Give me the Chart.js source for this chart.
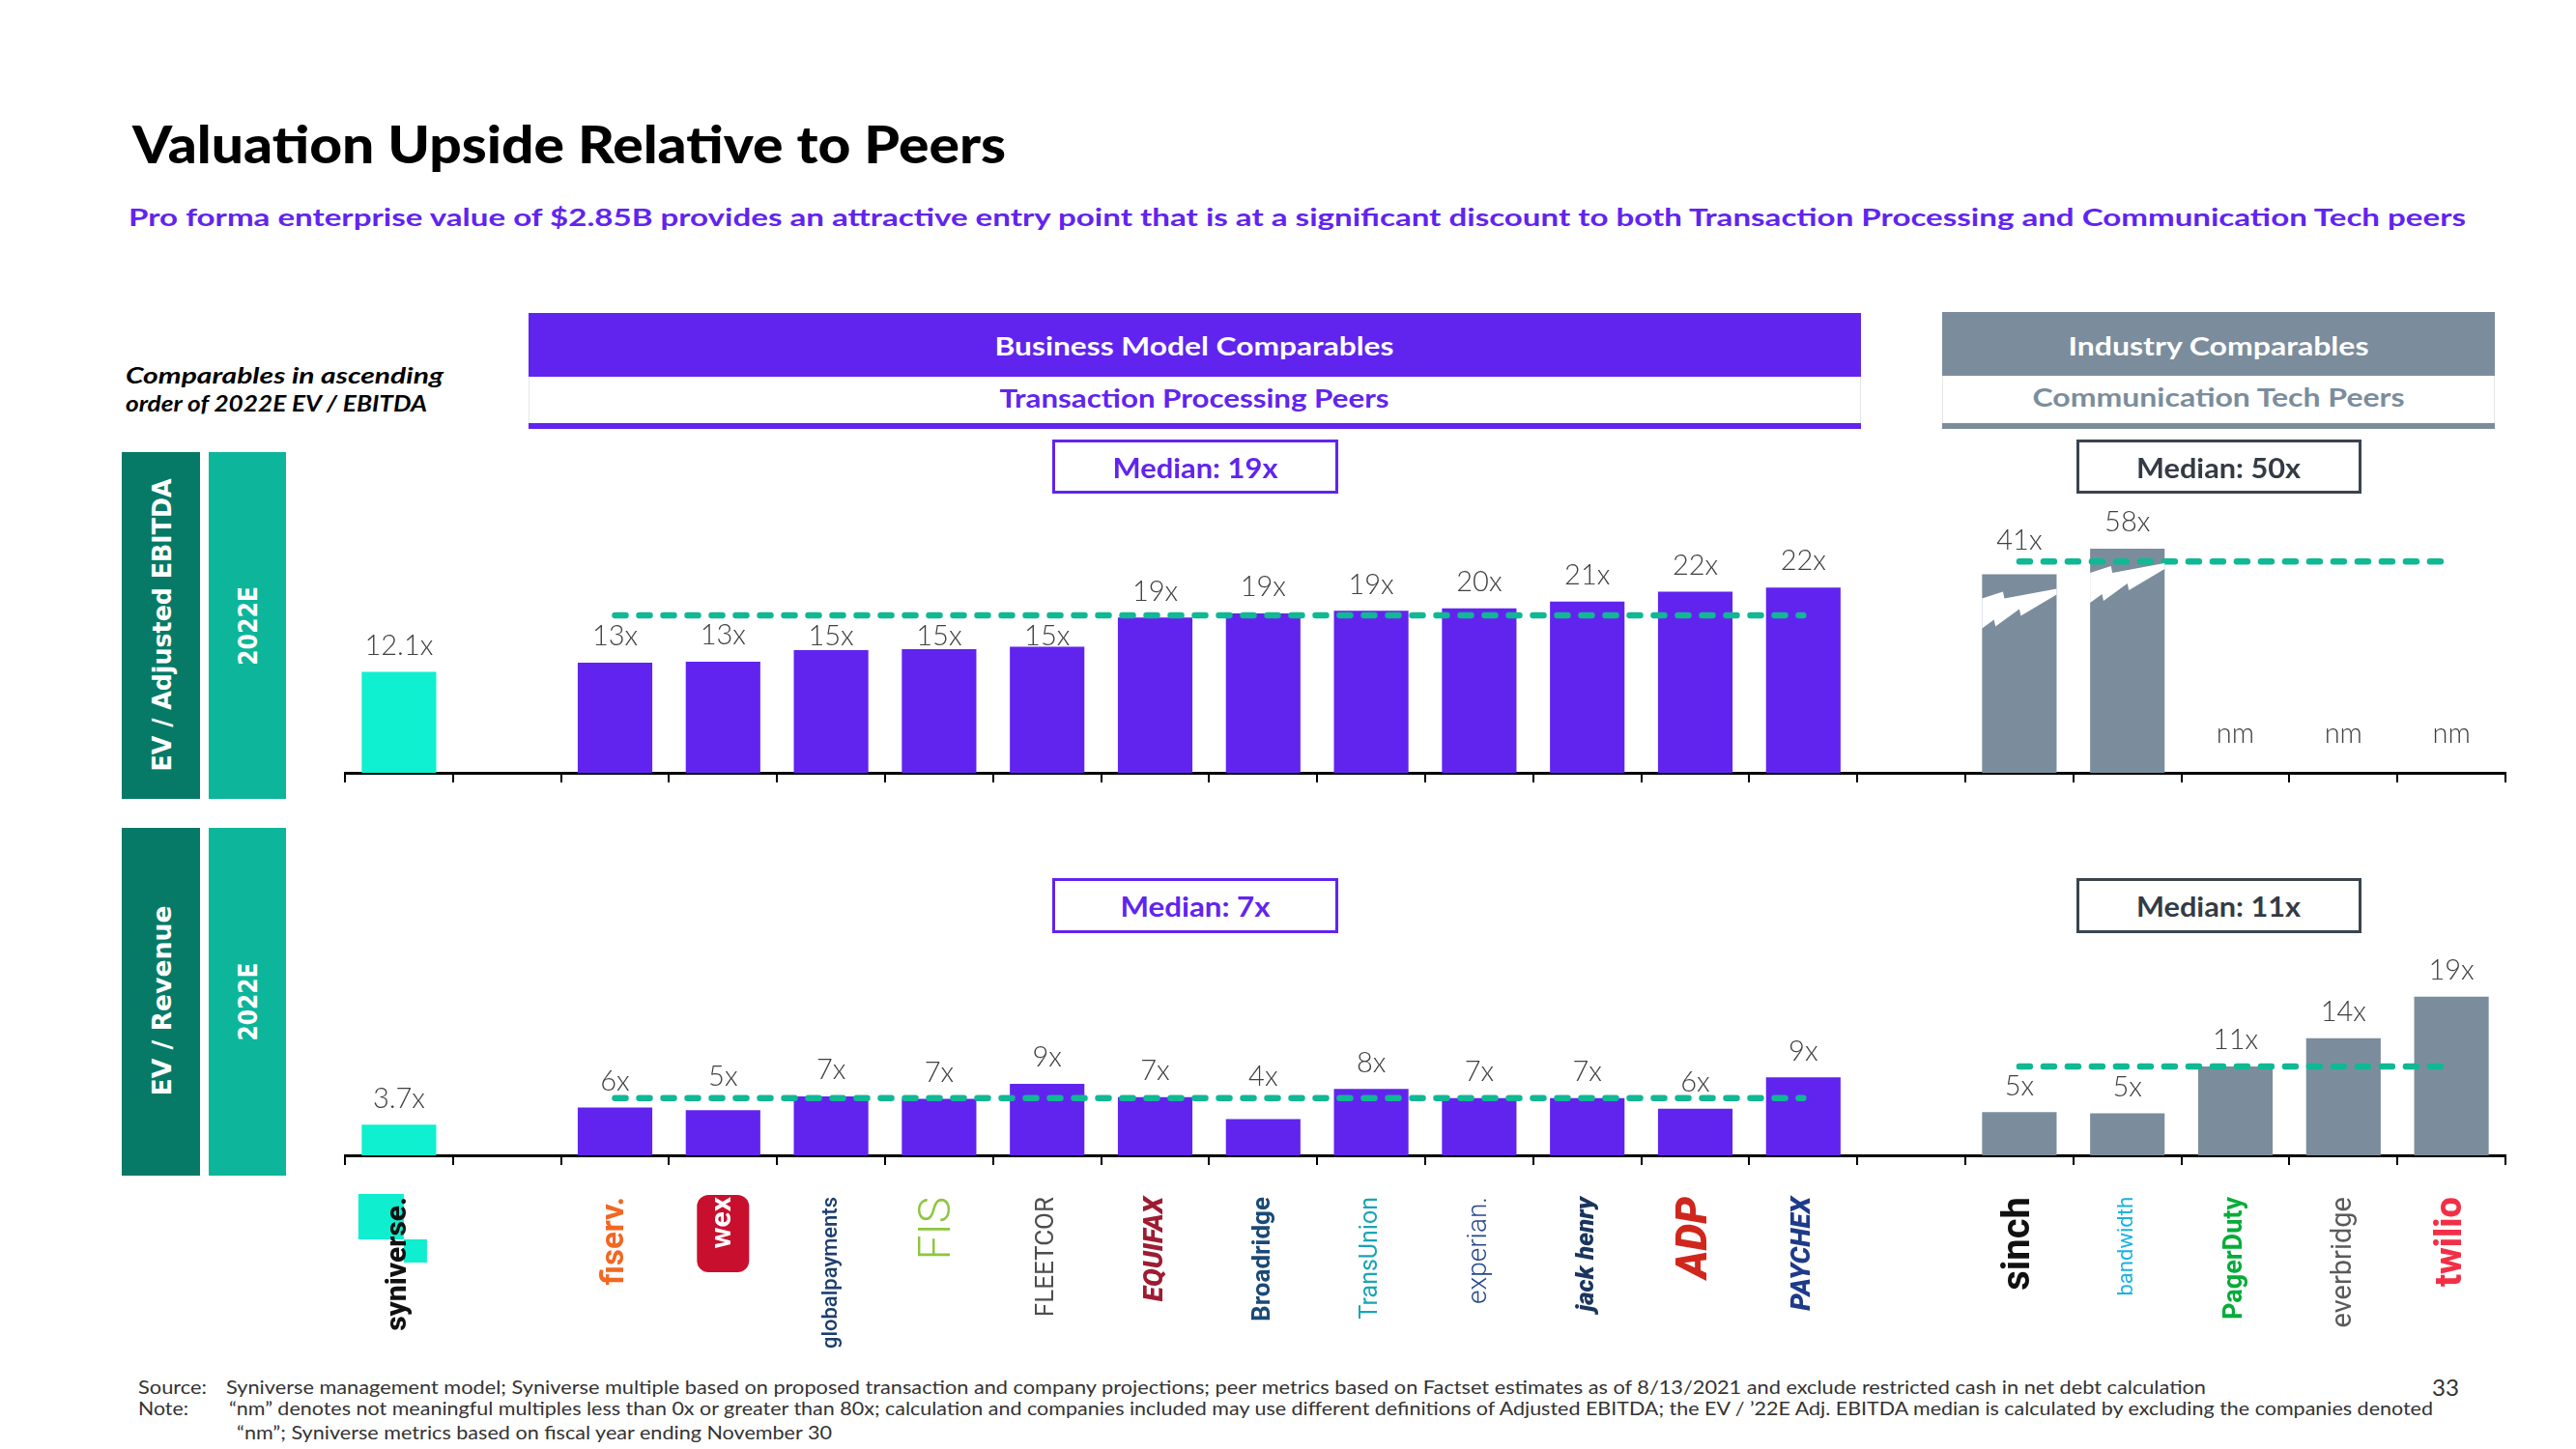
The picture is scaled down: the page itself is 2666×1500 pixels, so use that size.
<!DOCTYPE html>
<html>
<head>
<meta charset="utf-8">
<script src="https://cdn.jsdelivr.net/npm/chart.js@4.4.0/dist/chart.umd.min.js"></script>
<style>
  html, body { margin: 0; padding: 0; background: #fff; }
  #page { position: relative; width: 2666px; height: 1500px; overflow: hidden; font-family: Lato, "Open Sans", sans-serif; }
  .t { position: absolute; white-space: nowrap; line-height: 1; }
  .box { position: absolute; box-sizing: border-box; }
  canvas { position: absolute; }
</style>
</head>
<body>
<div id="page">
  <!-- group headers -->
  <div class="box" style="left:547px;top:324px;width:1379px;height:66px;background:#6124EF"></div>
  <div class="box" style="left:547px;top:390px;width:1379px;height:48px;border-left:1px solid #e6e6e6;border-right:1px solid #e6e6e6"></div>
  <div class="box" style="left:547px;top:438px;width:1379px;height:6px;background:#6124EF"></div>
  <div class="box" style="left:2010px;top:323px;width:572px;height:66px;background:#7B8D9C"></div>
  <div class="box" style="left:2010px;top:389px;width:572px;height:49px;border-left:1px solid #e6e6e6;border-right:1px solid #e6e6e6"></div>
  <div class="box" style="left:2010px;top:438px;width:572px;height:6px;background:#7B8D9C"></div>

  <!-- median boxes -->
  <div class="box" style="left:1089px;top:455px;width:296px;height:56px;border:3px solid #6124EF"></div>
  <div class="box" style="left:1089px;top:909px;width:296px;height:57px;border:3px solid #6124EF"></div>
  <div class="box" style="left:2149px;top:455px;width:295px;height:56px;border:3px solid #3A444E"></div>
  <div class="box" style="left:2149px;top:909px;width:295px;height:57px;border:3px solid #3A444E"></div>

  <!-- row labels -->
  <div class="box" style="left:126px;top:468px;width:81px;height:359px;background:#077A67"></div>
  <div class="box" style="left:216px;top:468px;width:80px;height:359px;background:#0DB59A"></div>
  <div class="box" style="left:126px;top:857px;width:81px;height:360px;background:#077A67"></div>
  <div class="box" style="left:216px;top:857px;width:80px;height:360px;background:#0DB59A"></div>

  <canvas id="topChart" width="2256" height="373" style="left:347px;top:437px"></canvas>
  <canvas id="bottomChart" width="2256" height="439" style="left:347px;top:981px"></canvas>
</div>
<script>
// categories (spacer slots are blank)
const syniverseName = 'syniverse.';
const txnPeers = ['fiserv.', 'wex', 'globalpayments', 'FIS', 'FLEETCOR', 'EQUIFAX', 'Broadridge',
                  'TransUnion', 'experian.', 'jack henry', 'ADP', 'PAYCHEX'];
const commPeers = ['sinch', 'bandwidth', 'PagerDuty', 'everbridge', 'twilio'];

// EV / Adjusted EBITDA, 2022E (null = nm)
const syniverseEbitda = 12.1;
const txnEbitda = [13.2, 13.3, 14.7, 14.8, 15.1, 18.6, 19.1, 19.4, 19.7, 20.5, 21.7, 22.2];
const commEbitda = [41, 58, null, null, null];

// EV / Revenue, 2022E
const syniverseRevenue = 3.7;
const txnRevenue = [5.75, 5.45, 7.1, 6.8, 8.6, 7.0, 4.35, 8.0, 6.9, 6.9, 5.6, 9.4];
const commRevenue = [5.2, 5.05, 10.7, 14.1, 19.1];

// broken axis for the tall communication tech bars
const BREAK_AT = 20;
const BREAK_SQUEEZE = 0.18;

const PURPLE = '#6124EF', GRAY = '#7B8D9C', AQUA = '#0FF0D0', TEAL = '#10B894';

const categories = [syniverseName, '', ...txnPeers, '', ...commPeers];
const row = (s, t, c) => [s, null, ...t, null, ...c];
const squeeze = v => v == null ? null : (v <= BREAK_AT ? v : BREAK_AT + (v - BREAK_AT) * BREAK_SQUEEZE);
const fmt = v => v == null ? 'nm' : Math.round(v) + 'x';
function median(arr) {
  const a = arr.filter(v => v != null).sort((x, y) => x - y);
  const m = Math.floor(a.length / 2);
  return a.length % 2 ? a[m] : (a[m - 1] + a[m]) / 2;
}
function medianLine(group, value) {
  const out = categories.map(() => null);
  const start = group === 'txn' ? 2 : 3 + txnPeers.length;
  const n = group === 'txn' ? txnPeers.length : commPeers.length;
  for (let i = 0; i < n; i++) out[start + i] = value;
  return out;
}
const barColors = row(AQUA, txnPeers.map(() => PURPLE), commPeers.map(() => GRAY));

// logo stand-ins: [color, size, weight, style, family]
const logoStyle = {
  'syniverse.': ['#111', 30, 800, 'normal', 'Roboto'],
  'fiserv.': ['#F26722', 33, 700, 'normal', 'Roboto'],
  'wex': ['#fff', 30, 700, 'normal', 'Roboto'],
  'globalpayments': ['#1C3E6E', 22, 500, 'normal', 'Roboto'],
  'FIS': ['#8DC63F', 46, 300, 'normal', 'Roboto'],
  'FLEETCOR': ['#4D4D4D', 26, 400, 'normal', 'Roboto'],
  'EQUIFAX': ['#9E1B32', 28, 900, 'italic', 'Roboto'],
  'Broadridge': ['#1A4A75', 26, 700, 'normal', 'Roboto'],
  'TransUnion': ['#1BA4B5', 25, 400, 'normal', 'Roboto'],
  'experian.': ['#26478D', 28, 300, 'normal', 'Roboto'],
  'jack henry': ['#1B365D', 26, 900, 'italic', 'Roboto'],
  'ADP': ['#D0271D', 44, 900, 'italic', 'Roboto'],
  'PAYCHEX': ['#1E3A8A', 28, 900, 'italic', 'Roboto'],
  'sinch': ['#111', 40, 700, 'normal', 'Roboto'],
  'bandwidth': ['#19B2E6', 22, 400, 'normal', 'Roboto'],
  'PagerDuty': ['#06AC38', 27, 700, 'normal', 'Roboto'],
  'everbridge': ['#5A5A5A', 29, 400, 'normal', 'Roboto'],
  'twilio': ['#F22F46', 38, 800, 'normal', 'Roboto']
};

// value labels sit above the bar, but step around the median line
const valueLabels = {
  id: 'valueLabels',
  afterDatasetsDraw(chart, args, opts) {
    const ctx = chart.ctx, xs = chart.scales.x, ys = chart.scales.y;
    const data = chart.data.datasets[0].data;
    const lines = chart.data.datasets.filter(d => d.type === 'line');
    ctx.save();
    ctx.font = '300 29px Lato';
    ctx.fillStyle = '#404040';
    ctx.textAlign = 'center';
    ctx.textBaseline = 'middle';
    opts.texts.forEach((txt, i) => {
      if (!txt) return;
      const x = xs.getPixelForValue(i);
      if (data[i] == null) { ctx.fillText(txt, x, ys.getPixelForValue(0) - 40); return; }
      const top = ys.getPixelForValue(data[i]);
      let y = top - 27;
      const ln = lines.find(d => d.data[i] != null);
      if (ln) {
        const ly = ys.getPixelForValue(ln.data[i]);
        if (Math.abs(y - ly) < 15) {
          const below = ly + 22, above = ly - 22;
          y = (below <= top - 10 && Math.abs(below - y) < Math.abs(above - y)) ? below : above;
        }
      }
      ctx.fillText(txt, x, y);
    });
    ctx.restore();
  }
};

const breakMarks = {
  id: 'breakMarks',
  afterDatasetsDraw(chart, args, opts) {
    if (!opts.raw) return;
    const ctx = chart.ctx, meta = chart.getDatasetMeta(0);
    const shape = [[0, 25], [0.28, 18], [0.30, 25], [1, 15], [1, 21], [0.52, 43], [0.50, 36], [0.18, 54], [0.16, 47], [0, 56]];
    ctx.save();
    ctx.fillStyle = '#fff';
    opts.raw.forEach((v, i) => {
      if (v == null || v <= BREAK_AT) return;
      const bar = meta.data[i];
      const left = bar.x - bar.width / 2;
      ctx.beginPath();
      shape.forEach(([fx, dy], k) => {
        const px = left + fx * bar.width, py = bar.y + dy;
        k ? ctx.lineTo(px, py) : ctx.moveTo(px, py);
      });
      ctx.closePath();
      ctx.fill();
    });
    ctx.restore();
  }
};

// logo backdrops (syniverse squares, wex badge) behind the tick labels
const logoBackdrops = {
  id: 'logoBackdrops',
  beforeDraw(chart, args, opts) {
    if (!opts.on) return;
    const ctx = chart.ctx, xs = chart.scales.x;
    const top = xs.top + 10 + 33;
    ctx.save();
    const sx = xs.getPixelForValue(categories.indexOf(syniverseName));
    ctx.fillStyle = '#10EED0';
    ctx.fillRect(sx - 42, top - 3, 47, 47);
    ctx.fillRect(sx + 5, top + 44, 24, 24);
    const wx = xs.getPixelForValue(categories.indexOf('wex'));
    ctx.fillStyle = '#C8102E';
    ctx.beginPath();
    ctx.roundRect(wx - 27, top - 2, 54, 80, 12);
    ctx.fill();
    ctx.restore();
  }
};

function makeChart(id, opt) {
  return new Chart(document.getElementById(id), {
    data: {
      labels: categories,
      datasets: [
        { type: 'bar', data: opt.values, backgroundColor: barColors, borderWidth: 0,
          categoryPercentage: 1, barPercentage: 0.69, order: 1 },
        { type: 'line', data: opt.lineA, borderColor: TEAL, borderWidth: 6.5, borderDash: [11, 14],
          borderCapStyle: 'round', pointRadius: 0, spanGaps: false, order: 0 },
        { type: 'line', data: opt.lineB, borderColor: TEAL, borderWidth: 6.5, borderDash: [11, 14],
          borderCapStyle: 'round', pointRadius: 0, spanGaps: false, order: 0 }
      ]
    },
    options: {
      responsive: false,
      animation: false,
      devicePixelRatio: 1,
      layout: { padding: { left: 10, right: 10, top: 0, bottom: 0 } },
      plugins: {
        legend: { display: false },
        tooltip: { enabled: false },
        valueLabels: { texts: opt.texts },
        breakMarks: { raw: opt.raw },
        logoBackdrops: { on: opt.logos }
      },
      scales: {
        y: { display: false, min: 0, max: opt.max },
        x: {
          offset: true,
          grid: { display: true, offset: true, drawOnChartArea: false, drawTicks: true, tickLength: 10,
                  color: '#000', lineWidth: 2 },
          border: { display: true, color: '#000', width: 3 },
          ticks: {
            display: opt.logos,
            autoSkip: false,
            minRotation: 90,
            maxRotation: 90,
            padding: 33,
            color: c => (logoStyle[categories[c.index]] || ['#000'])[0],
            font: c => {
              const s = logoStyle[categories[c.index]] || ['#000', 20, 400, 'normal', 'Roboto'];
              return { size: s[1], weight: s[2], style: s[3], family: s[4] };
            }
          },
          afterFit(scale) {
            scale.height = opt.axisHeight;
            scale.paddingLeft = 0;
            scale.paddingRight = 0;
          }
        }
      }
    },
    plugins: [valueLabels, breakMarks, logoBackdrops]
  });
}

const topMedTxn = median(txnEbitda), topMedComm = median(commEbitda);
const botMedTxn = median(txnRevenue), botMedComm = median(commRevenue);

makeChart('topChart', {
  values: row(syniverseEbitda, txnEbitda, commEbitda.map(squeeze)),
  raw: row(null, txnEbitda.map(() => null), commEbitda),
  texts: row(syniverseEbitda.toFixed(1) + 'x', txnEbitda.map(fmt), commEbitda.map(fmt)),
  lineA: medianLine('txn', topMedTxn),
  lineB: medianLine('comm', squeeze(topMedComm)),
  max: 42, axisHeight: 10, logos: false
});

makeChart('bottomChart', {
  values: row(syniverseRevenue, txnRevenue, commRevenue),
  raw: null,
  texts: row(syniverseRevenue.toFixed(1) + 'x', txnRevenue.map(fmt), commRevenue.map(fmt)),
  lineA: medianLine('txn', botMedTxn),
  lineB: medianLine('comm', botMedComm),
  max: 25, axisHeight: 224, logos: true
});

// slide text
const page = document.getElementById('page');
function label(s, o) {
  const el = document.createElement('span');
  el.className = 't';
  el.textContent = s;
  el.style.font = o.font;
  el.style.color = o.color || '#000';
  page.appendChild(el);
  const k = o.w ? o.w / el.getBoundingClientRect().width : 1;
  el.style.left = o.x + 'px';
  el.style.top = o.y + 'px';
  if (o.center || o.rot) {
    el.style.transformOrigin = 'center center';
    el.style.transform = 'translate(-50%,-50%)' + (o.rot ? ' rotate(' + o.rot + 'deg)' : '') + ' scaleX(' + k + ')';
  } else {
    el.style.transformOrigin = 'left center';
    el.style.transform = 'translateY(-50%) scaleX(' + k + ')';
  }
}

label('Valuation Upside Relative to Peers', { x: 137, y: 148, w: 904, font: '900 53px Lato' });
label('Pro forma enterprise value of $2.85B provides an attractive entry point that is at a significant discount to both Transaction Processing and Communication Tech peers',
  { x: 133, y: 224, w: 2419, font: '700 25px Lato', color: PURPLE });
label('Comparables in ascending', { x: 130, y: 388, w: 329, font: 'italic 700 23px Lato' });
label('order of 2022E EV / EBITDA', { x: 130, y: 417, w: 312, font: 'italic 700 23px Lato' });

label('Business Model Comparables', { x: 1236, y: 358, w: 413, center: true, font: '700 26px Lato', color: '#fff' });
label('Transaction Processing Peers', { x: 1236, y: 412, w: 403, center: true, font: '700 26px Lato', color: PURPLE });
label('Industry Comparables', { x: 2296, y: 358, w: 311, center: true, font: '700 26px Lato', color: '#fff' });
label('Communication Tech Peers', { x: 2296, y: 411, w: 385, center: true, font: '700 26px Lato', color: GRAY });

label('Median: ' + fmt(topMedTxn), { x: 1237, y: 484, w: 171, center: true, font: '700 28px Lato', color: PURPLE });
label('Median: ' + fmt(botMedTxn), { x: 1237, y: 938, w: 155, center: true, font: '700 28px Lato', color: PURPLE });
label('Median: ' + fmt(topMedComm), { x: 2296, y: 484, w: 170, center: true, font: '700 28px Lato', color: '#333B45' });
label('Median: ' + fmt(botMedComm), { x: 2296, y: 938, w: 170, center: true, font: '700 28px Lato', color: '#333B45' });

label('EV / Adjusted EBITDA', { x: 167, y: 647, w: 303, rot: -90, font: '700 27px "DejaVu Sans"', color: '#fff' });
label('2022E', { x: 256, y: 648, w: 82, rot: -90, font: '700 27px "DejaVu Sans"', color: '#fff' });
label('EV / Revenue', { x: 167, y: 1036, w: 197, rot: -90, font: '700 27px "DejaVu Sans"', color: '#fff' });
label('2022E', { x: 256, y: 1037, w: 81, rot: -90, font: '700 27px "DejaVu Sans"', color: '#fff' });

label('Source:', { x: 143, y: 1435, w: 71, font: '400 19px Lato', color: '#333' });
label('Syniverse management model; Syniverse multiple based on proposed transaction and company projections; peer metrics based on Factset estimates as of 8/13/2021 and exclude restricted cash in net debt calculation',
  { x: 234, y: 1435, w: 2049, font: '400 19px Lato', color: '#333' });
label('Note:', { x: 143, y: 1457, w: 52, font: '400 19px Lato', color: '#333' });
label('\u201Cnm\u201D denotes not meaningful multiples less than 0x or greater than 80x; calculation and companies included may use different definitions of Adjusted EBITDA; the EV / \u201922E Adj. EBITDA median is calculated by excluding the companies denoted',
  { x: 237, y: 1457, w: 2281, font: '400 19px Lato', color: '#333' });
label('\u201Cnm\u201D; Syniverse metrics based on fiscal year ending November 30',
  { x: 245, y: 1482, w: 616, font: '400 19px Lato', color: '#333' });
label('33', { x: 2531, y: 1435, w: 28, center: true, font: '400 24px Lato', color: '#333' });
</script>
</body>
</html>
